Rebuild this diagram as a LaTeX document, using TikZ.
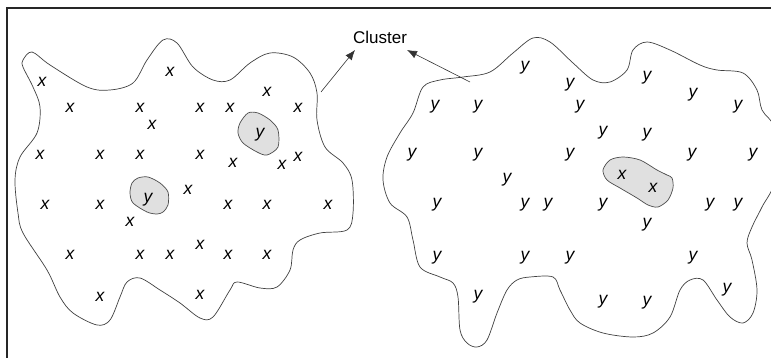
\documentclass[tikz,border=0pt]{standalone}
\usepackage{fontspec}
\setmainfont{Liberation Sans}
\usetikzlibrary{arrows.meta}
\begin{document}
\begin{tikzpicture}[x=1pt,y=-1pt,
  outline/.style={draw=black!75,line width=0.7pt},
  blob/.style={draw=black!70,fill=black!12,line width=0.7pt},
  lbl/.style={inner sep=0pt,font=\fontsize{17.5}{17.5}\selectfont\itshape},
  arr/.style={draw=black!80,line width=0.6pt,-{Latex[length=10pt,width=8pt]}}]
\useasboundingbox (0,0) rectangle (771,358);
\begin{scope}
\clip (0,0) rectangle (771,358);
% frame
\draw[line width=1.2pt,black!85] (7,358) -- (7,8) -- (771,8);
% left cluster
\draw[outline] plot[smooth cycle,tension=0.55] coordinates {
(23,60)(32,52)(50,65)(87,87)(110,90)(133,83)(147,60)(163,40)(177,43)(193,67)(213,80)(230,80)(250,63)(270,53)(293,57)(310,73)(317,93)(317,120)(325,147)(343,163)(352,180)(353,213)(347,230)(320,233)(300,240)(293,250)(290,270)(277,287)(260,288)(237,282)(230,290)(213,317)(200,318)(180,303)(160,290)(140,278)(127,282)(120,297)(110,320)(97,325)(73,313)(60,297)(47,270)(23,233)(18,213)(15,180)(20,157)(37,133)(40,107)(33,87)(23,67)};
% right cluster
\draw[outline] plot[smooth cycle,tension=0.55] coordinates {
(440,80)(463,77)(490,72)(513,53)(533,38)(550,42)(573,63)(593,80)(610,82)(627,70)(633,50)(647,42)(670,50)(700,65)(717,70)(743,73)(757,90)(762,110)(775,130)(775,180)(762,207)(752,227)(747,243)(752,260)(757,290)(753,313)(743,323)(730,317)(717,300)(703,280)(690,280)(680,290)(670,317)(653,333)(633,337)(603,333)(580,323)(570,310)(560,290)(553,277)(530,277)(517,280)(507,290)(497,313)(487,340)(477,347)(467,343)(460,330)(458,297)(453,283)(440,277)(420,267)(413,240)(407,217)(390,203)(383,180)(387,157)(400,133)(413,113)(423,87)};
\end{scope}
% grey blobs
\draw[blob] plot[smooth cycle,tension=0.5] coordinates {
(240,123)(248,113)(258,113)(270,120)(278,130)(278,147)(267,155)(257,152)(243,143)(238,133)};
\draw[blob] plot[smooth cycle,tension=0.5] coordinates {
(132,183)(138,178)(148,177)(160,183)(168,192)(168,205)(163,212)(157,214)(147,212)(133,203)(130,193)};
\draw[blob] plot[smooth cycle,tension=0.5] coordinates {
(603,170)(610,160)(623,157)(640,160)(657,170)(667,175)(672,178)(673,188)(668,200)(658,207)(648,205)(637,198)(620,188)(607,180)};
% x labels
\foreach \p [count=\i] in {(42,82),(170,72),(267,92),(70,108),(140,108),(152,125),(200,108),(230,108),(298,108),(40,155),(100,155),(140,155),(200,155),(233,163),(282,165),(298,157),(188,190),(45,205),(100,205),(130,222),(228,205),(267,205),(328,205),(70,255),(140,255),(170,255),(200,245),(228,255),(267,255),(100,297),(200,295),(622,175),(653,188)}
  \node[lbl] (x\i) at \p {x};
% y labels
\foreach \p [count=\i] in {(260,135),(148,200),(525,68),(570,85),(647,78),(693,95),(738,107),(435,107),(478,107),(580,107),(603,133),(647,135),(412,155),(478,155),(570,155),(692,155),(753,155),(507,180),(437,205),(525,205),(548,205),(603,205),(710,205),(738,205),(647,225),(437,258),(525,258),(570,258),(693,258),(478,297),(603,302),(647,303),(727,290)}
  \node[lbl] (y\i) at \p {y};
% Cluster label and arrows
\node[inner sep=0pt,font=\fontsize{17}{17}\selectfont] (cl) at (380,37) {Cluster};
\coordinate (la) at (321,92);
\coordinate (lt) at (355,50);
\coordinate (ra) at (470,82);
\coordinate (rt) at (407,50);
\draw[arr] (la) -- (lt);
\draw[arr] (ra) -- (rt);
\end{tikzpicture}
\end{document}
